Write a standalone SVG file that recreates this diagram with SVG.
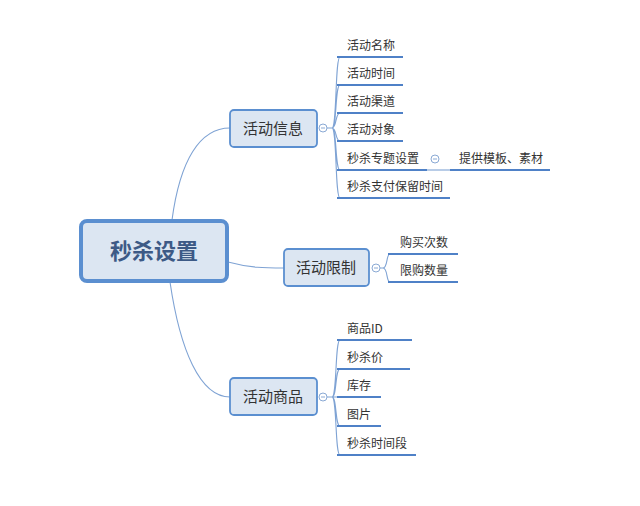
<svg xmlns="http://www.w3.org/2000/svg" width="640" height="506" viewBox="0 0 640 506">
<style>
text{font-family:"Noto Sans CJK SC","Liberation Sans",sans-serif;fill:#333}
.c{font-size:12px}
.m{font-size:15px;text-anchor:middle}
.r{font-size:22px;font-weight:bold;fill:#3d5a86;text-anchor:middle}
.box{fill:#dce6f2;stroke:#5b8fd0;stroke-width:1.8}
.ul{stroke:#4f81c7;stroke-width:2.2}
.ln{fill:none;stroke:#7fa3d4;stroke-width:1.1}
.tg{fill:#fff;stroke:#8aa9d4;stroke-width:1}
</style>
<rect width="640" height="506" fill="#fff"/>
<g id="connectors">
<path class="ln" d="M172 220 C180 160 200 128 230 128"/>
<path class="ln" d="M228 262 C250 268 265 268 284 268"/>
<path class="ln" d="M170 282 C180 350 200 397 230 397"/>
<path class="ln" d="M327 128 H332 C337 128 335 57 340 57 M332 128 C337 128 335 85 340 85 M332 128 C337 128 335 113 340 113 M332 128 C337 128 335 141 340 141 M332 128 C337 128 335 170 340 170 M332 128 C337 128 335 198 340 198"/>
<path class="ln" d="M380 268 H383 C388 268 386 254 390 254 M383 268 C388 268 386 282 390 282"/>
<path class="ln" d="M327 397 H332 C337 397 335 340 340 340 M332 397 C337 397 335 369 340 369 M332 397 H340 M332 397 C337 397 335 426 340 426 M332 397 C337 397 335 455 340 455"/>
<path class="ln" d="M427 170 H450"/>
</g>
<g id="root"><rect x="81" y="221" width="146" height="60" rx="6" fill="#dce6f2" stroke="#5b8fd0" stroke-width="4"/><text class="r" x="154" y="259">秒杀设置</text></g>
<g id="n-info"><rect class="box" x="230" y="110" width="87" height="37" rx="4"/><text class="m" x="273" y="134">活动信息</text><circle class="tg" cx="323" cy="128" r="4"/><path d="M321 128h4" stroke="#8aa9d4"/></g>
<g id="n-limit"><rect class="box" x="284" y="249" width="85" height="37" rx="4"/><text class="m" x="326" y="273">活动限制</text><circle class="tg" cx="376" cy="268" r="4"/><path d="M374 268h4" stroke="#8aa9d4"/></g>
<g id="n-goods"><rect class="box" x="230" y="378" width="87" height="37" rx="4"/><text class="m" x="273" y="402">活动商品</text><circle class="tg" cx="323" cy="397" r="4"/><path d="M321 397h4" stroke="#8aa9d4"/></g>
<g id="c1"><text class="c" x="347" y="50">活动名称</text><line class="ul" x1="337" y1="57" x2="403" y2="57"/></g>
<g id="c2"><text class="c" x="347" y="78">活动时间</text><line class="ul" x1="337" y1="85" x2="403" y2="85"/></g>
<g id="c3"><text class="c" x="347" y="106">活动渠道</text><line class="ul" x1="337" y1="113" x2="403" y2="113"/></g>
<g id="c4"><text class="c" x="347" y="134">活动对象</text><line class="ul" x1="337" y1="141" x2="403" y2="141"/></g>
<g id="c5"><text class="c" x="347" y="163">秒杀专题设置</text><line class="ul" x1="337" y1="170" x2="427" y2="170"/><circle class="tg" cx="435" cy="159" r="4"/><path d="M433 159h4" stroke="#8aa9d4"/></g>
<g id="c5a"><text class="c" x="459" y="163">提供模板、素材</text><line class="ul" x1="450" y1="170" x2="550" y2="170"/></g>
<g id="c6"><text class="c" x="347" y="191">秒杀支付保留时间</text><line class="ul" x1="337" y1="198" x2="450" y2="198"/></g>
<g id="l1"><text class="c" x="400" y="247">购买次数</text><line class="ul" x1="388" y1="254" x2="458" y2="254"/></g>
<g id="l2"><text class="c" x="400" y="275">限购数量</text><line class="ul" x1="388" y1="282" x2="458" y2="282"/></g>
<g id="g1"><text class="c" x="347" y="333">商品ID</text><line class="ul" x1="337" y1="340" x2="412" y2="340"/></g>
<g id="g2"><text class="c" x="347" y="362">秒杀价</text><line class="ul" x1="337" y1="369" x2="410" y2="369"/></g>
<g id="g3"><text class="c" x="347" y="390">库存</text><line class="ul" x1="337" y1="397" x2="381" y2="397"/></g>
<g id="g4"><text class="c" x="347" y="419">图片</text><line class="ul" x1="337" y1="426" x2="381" y2="426"/></g>
<g id="g5"><text class="c" x="347" y="448">秒杀时间段</text><line class="ul" x1="337" y1="455" x2="416" y2="455"/></g>
</svg>
